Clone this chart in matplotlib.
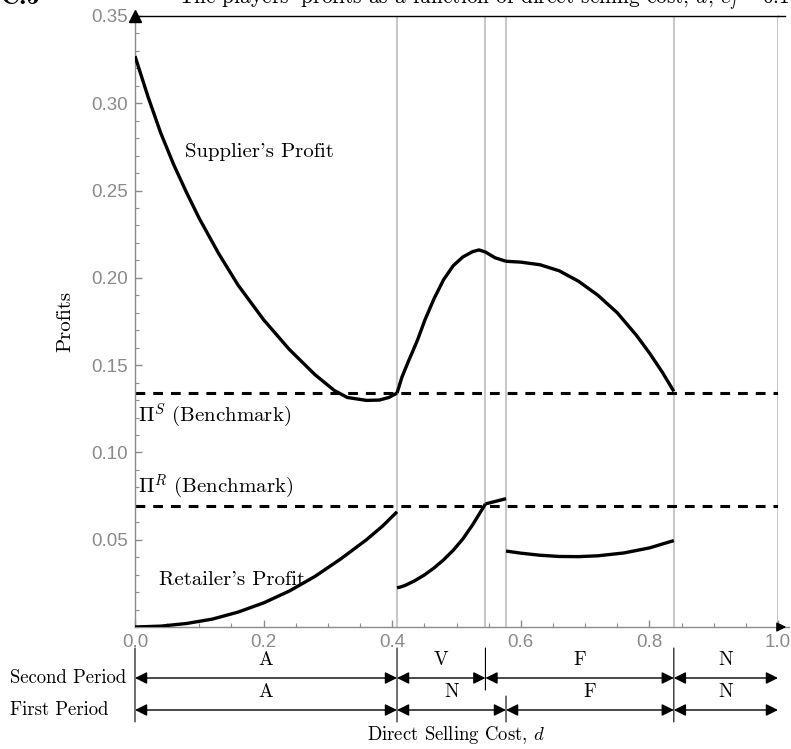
import matplotlib
matplotlib.use("Agg")
import matplotlib.pyplot as plt
from matplotlib.ticker import MultipleLocator, FormatStrFormatter

plt.rcParams["mathtext.fontset"] = "cm"
plt.rcParams["axes.unicode_minus"] = False

# ---- data -------------------------------------------------------------
# supplier's profit, three pieces
sup1_d = [0.0, 0.02, 0.04, 0.06, 0.08, 0.10, 0.13, 0.16, 0.20, 0.24, 0.28, 0.31,
          0.33, 0.36, 0.38, 0.395, 0.4075]
sup1_v = [0.327, 0.304, 0.283, 0.265, 0.249, 0.234, 0.214, 0.196, 0.176, 0.159, 0.1445, 0.1355,
          0.1315, 0.1298, 0.1300, 0.1315, 0.134]
sup2_d = [0.4075, 0.415, 0.425, 0.432, 0.44, 0.451, 0.465, 0.48, 0.495, 0.51, 0.525,
          0.535, 0.545, 0.56, 0.577]
sup2_v = [0.134, 0.143, 0.152, 0.158, 0.165, 0.176, 0.188, 0.199, 0.207, 0.212, 0.215,
          0.216, 0.2148, 0.2115, 0.2095]
sup3_d = [0.577, 0.60, 0.63, 0.66, 0.69, 0.72, 0.75, 0.78, 0.80, 0.82, 0.838]
sup3_v = [0.2095, 0.209, 0.2075, 0.204, 0.198, 0.190, 0.180, 0.167, 0.157, 0.146, 0.135]

# retailer's profit, four pieces
ret1_d = [0.0, 0.04, 0.08, 0.12, 0.16, 0.20, 0.24, 0.28, 0.32, 0.36, 0.385, 0.4075]
ret1_v = [0.0, 0.0005, 0.002, 0.0045, 0.0085, 0.0138, 0.0206, 0.029, 0.039, 0.050, 0.0578, 0.066]
ret2_d = [0.4075, 0.412, 0.42, 0.435, 0.45, 0.465, 0.48, 0.495, 0.51, 0.525, 0.545]
ret2_v = [0.0225, 0.0228, 0.0238, 0.0265, 0.0298, 0.0338, 0.0385, 0.0440, 0.0505, 0.0585, 0.0705]
ret3_d = [0.545, 0.577]
ret3_v = [0.0705, 0.0735]
ret4_d = [0.577, 0.60, 0.63, 0.66, 0.69, 0.72, 0.76, 0.80, 0.838]
ret4_v = [0.0435, 0.0423, 0.0411, 0.0404, 0.0403, 0.0408, 0.0424, 0.0453, 0.0495]

# benchmark profits
bench_supplier = 0.134
bench_retailer = 0.0695

# regime thresholds (vertical guides)
thresholds = [0.4075, 0.545, 0.577, 0.838, 1.0]

# equilibrium regimes per period: (start, end, label)
second_period = [(0.0, 0.4075, "A"), (0.4075, 0.545, "V"), (0.545, 0.838, "F"), (0.838, 1.0, "N")]
first_period = [(0.0, 0.4075, "A"), (0.4075, 0.577, "N"), (0.577, 0.838, "F"), (0.838, 1.0, "N")]

# ---- figure -----------------------------------------------------------
W, H = 791, 749
fig = plt.figure(figsize=(W / 100, H / 100), dpi=100)
ax = fig.add_axes([135 / W, 1 - 627 / H, (778 - 135) / W, (627 - 16) / H])
ax.set_xlim(0, 1.0)
ax.set_ylim(0, 0.35)

serif = "cmr10"
gray = "#8c8c8c"

for t in thresholds:
    ax.axvline(t, color="#c8c8c8", lw=1.5, zorder=1)

ax.axhline(bench_supplier, color="black", lw=2.2, ls=(0, (3.2, 2.6)), zorder=2)
ax.axhline(bench_retailer, color="black", lw=2.2, ls=(0, (3.2, 2.6)), zorder=2)

for xd, yv in [(sup1_d, sup1_v), (sup2_d, sup2_v), (sup3_d, sup3_v),
               (ret1_d, ret1_v), (ret2_d, ret2_v), (ret3_d, ret3_v), (ret4_d, ret4_v)]:
    ax.plot(xd, yv, color="black", lw=2.4, solid_capstyle="butt",
            solid_joinstyle="round", zorder=3)

# spines and ticks
ax.spines["right"].set_visible(False)
ax.spines["top"].set_color("black")
ax.spines["top"].set_linewidth(1.0)
ax.spines["left"].set_color(gray)
ax.spines["bottom"].set_color(gray)
ax.spines["left"].set_linewidth(1.0)
ax.spines["bottom"].set_linewidth(1.0)

ax.set_xticks([0.0, 0.2, 0.4, 0.6, 0.8, 1.0])
ax.set_yticks([0.05, 0.10, 0.15, 0.20, 0.25, 0.30, 0.35])
ax.xaxis.set_minor_locator(MultipleLocator(0.05))
ax.yaxis.set_minor_locator(MultipleLocator(0.01))
ax.xaxis.set_major_formatter(FormatStrFormatter("%.1f"))
ax.yaxis.set_major_formatter(FormatStrFormatter("%.2f"))
ax.tick_params(which="both", direction="in", color=gray, top=False, right=False)
ax.tick_params(which="major", length=5, width=1.0, labelsize=13.5, labelcolor="#8a8a8a", pad=5)
ax.tick_params(which="minor", length=3, width=0.8)
for lab in ax.get_xticklabels() + ax.get_yticklabels():
    lab.set_fontfamily("Liberation Sans")

# arrow heads on axes
ax.plot([0], [0.35], marker="^", color="black", markersize=8, clip_on=False, zorder=5)
ax.annotate("", xy=(789 / W, 1 - 627 / H), xytext=(778 / W, 1 - 627 / H),
            xycoords="figure fraction", textcoords="figure fraction",
            arrowprops=dict(arrowstyle="-|>", color="black", lw=1.0, mutation_scale=14))
ax.plot([778 / W, 785 / W], [1 - 16 / H, 1 - 16 / H], color="black", lw=1.0,
        transform=fig.transFigure, clip_on=False)
ax.plot([778 / W, 789 / W], [1 - 627 / H, 1 - 627 / H], color=gray, lw=1.0,
        transform=fig.transFigure, clip_on=False)

ax.set_ylabel("Profits", fontfamily=serif, fontsize=15, labelpad=12)

# curve labels
ax.text(0.078, 0.272, "Supplier's Profit", fontfamily=serif, fontsize=15, va="center")
ax.text(0.038, 0.027, "Retailer's Profit", fontfamily=serif, fontsize=15, va="center")
ax.text(0.005, 0.121, r"$\Pi^S$ (Benchmark)", fontfamily=serif, fontsize=15, va="center")
ax.text(0.005, 0.08, r"$\Pi^R$ (Benchmark)", fontfamily=serif, fontsize=15, va="center")

# regime bands below the axis
def band(rows, y_arrow, y_text):
    for a, b, lab in rows:
        ax.annotate("", xy=(a, y_arrow), xytext=(b, y_arrow),
                    xycoords=("data", "figure pixels"), textcoords=("data", "figure pixels"),
                    arrowprops=dict(arrowstyle="<|-|>", color="black", lw=1.0,
                                    mutation_scale=18, shrinkA=0, shrinkB=0))
        ax.annotate(lab, xy=((a + b) / 2, y_text), xycoords=("data", "figure pixels"),
                    ha="center", va="center", fontfamily=serif, fontsize=14)

band(second_period, H - 678, H - 660)
band(first_period, H - 710, H - 692)

# vertical separators
for x, y0, y1 in [(0.0, 648, 722), (0.4075, 648, 722), (0.838, 648, 722),
                  (0.545, 648, 690), (0.577, 696, 722)]:
    ax.annotate("", xy=(x, H - y0), xytext=(x, H - y1),
                xycoords=("data", "figure pixels"), textcoords=("data", "figure pixels"),
                arrowprops=dict(arrowstyle="-", color="black", lw=0.8, shrinkA=0, shrinkB=0))

fig.text(10 / W, 1 - 678 / H, "Second Period", fontfamily=serif, fontsize=13.5, va="center")
fig.text(10 / W, 1 - 710 / H, "First Period", fontfamily=serif, fontsize=13.5, va="center")
fig.text(0.5 * (135 + 778) / W, 1 - 735 / H, r"Direct Selling Cost, $d$",
         fontfamily=serif, fontsize=13.5, ha="center", va="center")

# heading of the figure, partly above the canvas
fig.text(0, 1 - 4 / H, "C.5", fontfamily="cmb10", fontsize=19, va="baseline")
fig.text(178 / W, 1 - 3 / H,
         r"The players' profits as a function of direct selling cost, $d$, $c_f = 0.1$",
         fontfamily=serif, fontsize=15.4, va="baseline")

fig.savefig("out.png", dpi=100)
